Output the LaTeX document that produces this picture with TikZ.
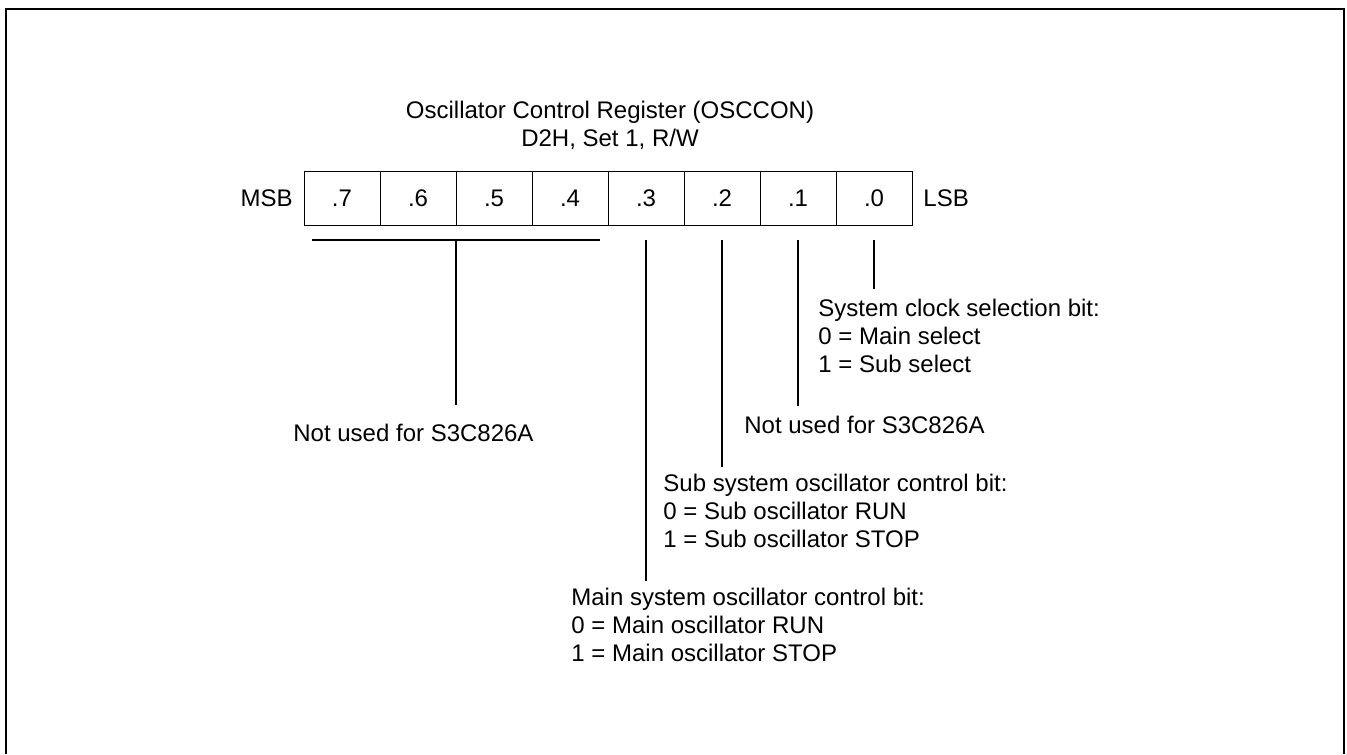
\documentclass[tikz,border=0pt]{standalone}
\usepackage{fontspec}
\setmainfont{Liberation Sans}
\usepackage{tikz}
\usetikzlibrary{
    positioning,
    calc
}
\tikzstyle{bitcell} = [
    rectangle,
    draw=black,
    line width=0.5pt,
    minimum width=38pt,
    minimum height=26.5pt,
    inner sep=0pt,
    outer sep=0pt,
    font=\fontsize{12}{14}\selectfont
]
\tikzstyle{label} = [
    inner sep=0pt,
    font=\fontsize{12}{14}\selectfont
]
\tikzstyle{desc} = [
    inner sep=0pt,
    anchor=north west,
    align=left,
    font=\fontsize{12}{14}\selectfont
]
\tikzstyle{bitline} = [
    line width=0.65pt,
    draw=black
]
\tikzstyle{frame} = [
    line width=1pt,
    draw=black
]

\begin{document}
\begin{tikzpicture}[x=0.5pt, y=-0.5pt]
        \useasboundingbox (0,0) rectangle (1347,754);
        % Frame, open at the bottom
        \draw[frame] (6,754) -- (6,9) -- (1344,9) -- (1344,754);

        % Title
        \node[label, anchor=north, align=center] (title) at (610,100.8)
            {Oscillator Control Register (OSCCON)\\D2H, Set 1, R/W};

        % Register bits
        \node[bitcell] (b7) at (342,198.5) {.7};
        \node[bitcell, right=0pt of b7] (b6) {.6};
        \node[bitcell, right=0pt of b6] (b5) {.5};
        \node[bitcell, right=0pt of b5] (b4) {.4};
        \node[bitcell, right=0pt of b4] (b3) {.3};
        \node[bitcell, right=0pt of b3] (b2) {.2};
        \node[bitcell, right=0pt of b2] (b1) {.1};
        \node[bitcell, right=0pt of b1] (b0) {.0};

        \node[label, left=5.5pt of b7] (msb) {MSB};
        \node[label, right=5.5pt of b0] (lsb) {LSB};

        % Descriptions
        \node[desc] (sysclk) at (818,298.8)
            {System clock selection bit:\\0 = Main select\\1 = Sub select};
        \node[desc] (unused1) at (744,415.8) {Not used for S3C826A};
        \node[desc] (subosc) at (663,473.8)
            {Sub system oscillator control bit:\\0 = Sub oscillator RUN\\1 = Sub oscillator STOP};
        \node[desc] (mainosc) at (571,587.8)
            {Main system oscillator control bit:\\0 = Main oscillator RUN\\1 = Main oscillator STOP};
        \node[desc] (unused74) at (293,423.8) {Not used for S3C826A};

        % Bit lines
        \draw[bitline] ([xshift=4pt,yshift=-7.5pt]b7.south west) -- ([xshift=-4pt,yshift=-7.5pt]b4.south east);
        \draw[bitline] ([yshift=-7.5pt]b6.south east) -- ([yshift=9.4pt]b6.south east |- unused74.north);
        \draw[bitline] ([yshift=-7.5pt]b3.south) -- ([yshift=3.4pt]b3.south |- mainosc.north);
        \draw[bitline] ([yshift=-7.5pt]b2.south) -- ([yshift=3.4pt]b2.south |- subosc.north);
        \draw[bitline] ([yshift=-7.5pt]b1.south) -- ([yshift=5pt]b1.south |- unused1.north);
        \draw[bitline] ([yshift=-7.5pt]b0.south) -- ([yshift=5pt]b0.south |- sysclk.north);
    \end{tikzpicture}
\end{document}
